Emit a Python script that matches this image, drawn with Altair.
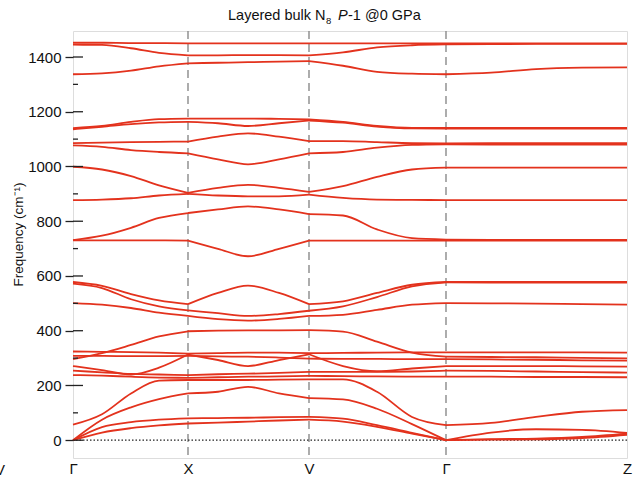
import altair as alt
import pandas as pd

# High-symmetry path (cumulative k-distance, arbitrary units)
k_sym = [0, 115, 236, 373, 554]
k_labels = ["Γ", "X", "V", "Γ", "Z"]

# k sample points: 4 intervals per segment (Γ-X, X-V, V-Γ, Γ-Z)
k_grid = [0, 29, 58, 86, 115, 145, 175, 206, 236, 270, 304, 339, 373, 418, 463, 509, 554]

# Phonon branches, frequency (cm^-1) at each k sample
ac1 = [0, 28, 44, 54, 61, 64, 68, 72, 75, 68, 49, 24, 0, 2, 3, 8, 20]
ac2 = [0, 48, 66, 75, 80, 81, 82, 84, 85, 79, 55, 27, 0, 4, 6, 12, 24]
ac3 = [0, 75, 120, 150, 171, 177, 195, 171, 154, 149, 115, 59, 0, 28, 40, 38, 27]
op04 = [57, 95, 171, 218, 220, 220, 220, 221, 222, 222, 177, 85, 55, 63, 85, 104, 110]
op05 = [238, 236, 232, 229, 228, 230, 232, 233, 235, 234, 233, 232, 232, 232, 231, 231, 230]
op06 = [254, 248, 242, 240, 238, 241, 243, 246, 250, 250, 250, 251, 254, 253, 251, 249, 247]
op07 = [271, 256, 240, 265, 313, 293, 271, 293, 314, 271, 252, 262, 271, 271, 271, 270, 269]
op08 = [308, 308, 307, 307, 308, 306, 305, 302, 298, 297, 297, 296, 296, 295, 294, 292, 291]
op09 = [324, 323, 322, 320, 316, 318, 320, 320, 318, 319, 320, 321, 321, 321, 321, 321, 320]
op10 = [296, 318, 348, 379, 398, 400, 401, 401, 402, 397, 360, 320, 305, 304, 303, 301, 299]
op11 = [501, 495, 483, 466, 454, 442, 437, 443, 454, 458, 476, 495, 501, 500, 499, 497, 495]
op12 = [572, 556, 515, 489, 474, 464, 454, 461, 473, 489, 523, 562, 577, 576, 576, 576, 576]
op13 = [578, 564, 534, 511, 497, 538, 565, 538, 497, 507, 538, 568, 578, 578, 578, 578, 578]
op14 = [730, 730, 730, 730, 729, 699, 672, 699, 729, 729, 729, 729, 729, 729, 729, 729, 729]
op15 = [731, 747, 776, 812, 830, 843, 854, 843, 826, 821, 770, 738, 733, 732, 732, 732, 732]
op16 = [877, 879, 884, 894, 900, 894, 891, 891, 897, 885, 879, 878, 877, 877, 877, 877, 877]
op17 = [999, 989, 965, 931, 904, 922, 933, 922, 907, 928, 962, 989, 996, 996, 996, 996, 996]
op18 = [1077, 1072, 1060, 1053, 1048, 1026, 1008, 1026, 1048, 1053, 1069, 1079, 1081, 1080, 1080, 1080, 1080]
op19 = [1085, 1087, 1089, 1090, 1091, 1109, 1121, 1109, 1093, 1093, 1089, 1085, 1084, 1085, 1085, 1085, 1085]
op20 = [1136, 1145, 1155, 1161, 1163, 1158, 1148, 1158, 1168, 1160, 1146, 1139, 1138, 1138, 1138, 1138, 1138]
op21 = [1140, 1148, 1163, 1173, 1175, 1175, 1175, 1174, 1172, 1163, 1148, 1141, 1141, 1141, 1141, 1141, 1141]
op22 = [1337, 1340, 1350, 1366, 1377, 1379, 1381, 1383, 1385, 1368, 1346, 1339, 1337, 1343, 1356, 1361, 1362]
op23 = [1445, 1444, 1432, 1415, 1406, 1406, 1407, 1407, 1406, 1417, 1435, 1443, 1446, 1447, 1448, 1448, 1448]
op24 = [1452, 1452, 1451, 1451, 1450, 1450, 1450, 1450, 1450, 1450, 1450, 1450, 1450, 1450, 1450, 1450, 1450]

branches = [ac1, ac2, ac3, op04, op05, op06, op07, op08, op09, op10, op11, op12,
            op13, op14, op15, op16, op17, op18, op19, op20, op21, op22, op23, op24]

y_major = [0, 200, 400, 600, 800, 1000, 1200, 1400]
y_minor = [100, 300, 500, 700, 900, 1100, 1300]

W, H = 554, 427
RED = "#e3321d"
FONT = "Liberation Sans"

# Long table: each branch split per path segment so kinks at high-symmetry points stay sharp
rows = []
for b, vals in enumerate(branches):
    for s in range(4):
        for i in range(4 * s, 4 * s + 5):
            rows.append({"k": k_grid[i], "freq": vals[i], "line": f"{b}_{s}"})
bands_df = pd.DataFrame(rows)

xs = alt.Scale(domain=[0, 554], nice=False, zero=False)
ys = alt.Scale(domain=[-65, 1495], nice=False, zero=False)

label_expr = " : ".join(
    f"datum.value == {k} ? '{lab}'" for k, lab in zip(k_sym, k_labels)
) + " : ''"

base_x = alt.X("k:Q", scale=xs, axis=alt.Axis(
    values=k_sym, labelExpr=label_expr, ticks=False, domain=False, grid=False,
    labelFontSize=15, labelFont=FONT, labelColor="#111", labelPadding=3,
    labelFlush=False, labelOverlap=False, title=None))
base_y = alt.Y("freq:Q", scale=ys, axis=alt.Axis(
    values=y_major, format="d", tickSize=8, tickColor="#222", tickWidth=1.3,
    domain=False, grid=False, labelFontSize=15, labelFont=FONT, labelColor="#111",
    labelPadding=4, title="Frequency (cm⁻¹)", titleFont=FONT, titleFontSize=13.5,
    titleFontWeight="normal", titleColor="#111", titlePadding=2, titleY=203))

lines = alt.Chart(bands_df).mark_line(
    color=RED, strokeWidth=1.8, interpolate="monotone"
).encode(x=base_x, y=base_y, detail="line:N")

sym_df = pd.DataFrame({"k": k_sym[1:4]})
vlines = alt.Chart(sym_df).mark_rule(
    color="#8a8a8a", strokeWidth=1.4, strokeDash=[8, 5]
).encode(x=alt.X("k:Q", scale=xs))

zero_df = pd.DataFrame({"freq": [0]})
zero_line = alt.Chart(zero_df).mark_rule(
    color="#222", strokeWidth=1.2, strokeDash=[1.5, 2]
).encode(y=alt.Y("freq:Q", scale=ys))

maj_df = pd.DataFrame({"freq": y_major})
min_df = pd.DataFrame({"freq": y_minor})
ticks_in_major = alt.Chart(maj_df).mark_rule(color="#222", strokeWidth=1.3).encode(
    y=alt.Y("freq:Q", scale=ys), x=alt.value(0), x2=alt.value(10))
ticks_in_minor = alt.Chart(min_df).mark_rule(color="#222", strokeWidth=1.3).encode(
    y=alt.Y("freq:Q", scale=ys), x=alt.value(0), x2=alt.value(5))

# Title pieces: subscript 8 and italic P
def ttext(txt, x, y, size=14.5, style="normal"):
    return alt.Chart(pd.DataFrame({"t": [txt]})).mark_text(
        align="left", baseline="alphabetic", font=FONT, fontSize=size,
        fontStyle=style, color="#111"
    ).encode(text="t:N", x=alt.value(x), y=alt.value(y))

title = (ttext("Layered bulk N", 155, -11)
         + ttext("8", 253, -7, size=9.5)
         + ttext("P", 265, -11, style="italic")
         + ttext("-1 @0 GPa", 275, -11))

edge_label = alt.Chart(pd.DataFrame({"t": ["V"]})).mark_text(
    align="center", baseline="alphabetic", font=FONT, fontSize=15, color="#111"
).encode(text="t:N", x=alt.value(-73), y=alt.value(H + 17))

chart = alt.layer(
    vlines, zero_line, lines, ticks_in_major, ticks_in_minor, title, edge_label
).properties(
    width=W, height=H,
    autosize=alt.AutoSizeParams(type="none"),
    padding={"left": 73, "top": 31, "right": 7, "bottom": 22},
).configure_view(
    stroke="#222", strokeWidth=1.4
).configure(background="white")

chart.save("out.html", embed_options={"renderer": "svg", "actions": False})
